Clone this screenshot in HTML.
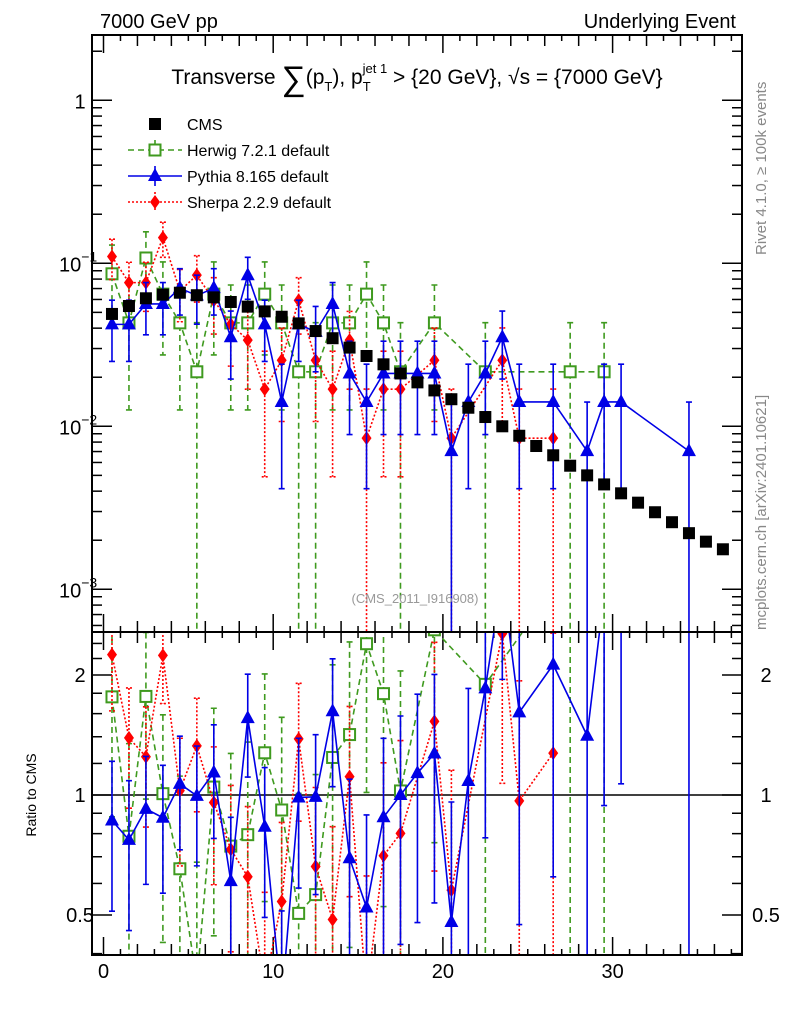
<!DOCTYPE html>
<html><head><meta charset="utf-8"><style>
html,body{margin:0;padding:0;background:#fff;overflow:hidden}
svg{display:block}
svg text{font-family:"Liberation Sans",sans-serif}
</style></head><body>
<svg id="c" width="786" height="1024" viewBox="0 0 786 1024" xmlns="http://www.w3.org/2000/svg">
<defs>
<clipPath id="cm"><rect x="92" y="35" width="650" height="597"/></clipPath>
<clipPath id="cr"><rect x="92" y="632" width="650" height="323"/></clipPath>
</defs>
<g id="axes"></g>
<g id="mainData" clip-path="url(#cm)"></g>
<g id="ratioData" clip-path="url(#cr)"></g>
<rect x="92" y="35" width="650" height="597" fill="none" stroke="#000" stroke-width="2"/>
<rect x="92" y="632" width="650" height="323" fill="none" stroke="#000" stroke-width="2"/>
<text x="100" y="28" font-size="20">7000 GeV pp</text>
<text x="736" y="28" font-size="20" text-anchor="end">Underlying Event</text>
<text x="417" y="84" font-size="21" text-anchor="middle">Transverse <tspan font-size="34" dy="6">∑</tspan><tspan dy="-6">(p</tspan><tspan font-size="13" dy="7">T</tspan><tspan dy="-7">), p</tspan><tspan font-size="13" dy="7">T</tspan><tspan font-size="13" dy="-18" dx="-8">jet 1</tspan><tspan dy="11"> &gt; {20 GeV}, √s = {7000 GeV}</tspan></text>
<text x="415" y="603" font-size="13" fill="#999" text-anchor="middle">(CMS_2011_I916908)</text>
<text transform="translate(766,255) rotate(-90)" font-size="15" fill="#888">Rivet 4.1.0, ≥ 100k events</text>
<text transform="translate(766,630) rotate(-90)" font-size="15" fill="#888">mcplots.cern.ch [arXiv:2401.10621]</text>
<text transform="translate(36,795) rotate(-90)" font-size="14" text-anchor="middle">Ratio to CMS</text>
<g id="legend"></g>
<script>
const xCenters=[0.5,1.5,2.5,3.5,4.5,5.5,6.5,7.5,8.5,9.5,10.5,11.5,12.5,13.5,14.5,15.5,16.5,17.5,18.5,19.5,20.5,21.5,22.5,23.5,24.5,25.5,26.5,27.5,28.5,29.5,30.5,31.5,32.5,33.5,34.5,35.5,36.5];
const cmsVals=[0.0489,0.0547,0.061,0.0642,0.066,0.0637,0.0618,0.0579,0.0542,0.0507,0.047,0.0428,0.0384,0.0347,0.0304,0.027,0.024,0.0211,0.0186,0.0166,0.01466,0.013,0.0114,0.0100,0.00875,0.00757,0.00664,0.00573,0.0050,0.0044,0.00388,0.0034,0.00297,0.00258,0.00221,0.00196,0.00176];
const herwigVals=[0.0862,0.0431,0.1078,0.0647,0.0431,0.0216,0.0647,0.0431,0.0431,0.0647,0.0431,0.0216,0.0216,0.0431,0.0431,0.0647,0.0431,0.0216,null,0.0431,null,null,0.0216,null,null,null,null,0.0216,null,0.0216];
const herwigErr=[0.0431,0.0305,0.0482,0.0373,0.0305,0.0216,0.0373,0.0305,0.0305,0.0373,0.0305,0.0216,0.0216,0.0305,0.0305,0.0373,0.0305,0.0216,null,0.0305,null,null,0.0216,null,null,null,null,0.0216,null,0.0216];
const pythiaVals=[0.0422,0.0422,0.0563,0.0563,0.0704,0.0634,0.0704,0.0352,0.0845,0.0422,0.0141,0.0422,0.038,0.0563,0.0211,0.0141,0.0211,0.0211,0.0211,0.0211,0.00704,0.0141,0.0211,0.0352,0.0141,null,0.0141,null,0.00704,0.0141,0.0141,null,null,null,0.00704];
const pythiaErr=[0.0172,0.0172,0.0199,0.0199,0.0223,0.0211,0.0223,0.0157,0.0244,0.0172,0.00996,0.0172,0.0164,0.0199,0.0122,0.00996,0.0122,0.0122,0.0122,0.0122,0.00704,0.00996,0.0122,0.0157,0.00996,null,0.00996,null,0.00704,0.00996,0.00996,null,null,null,0.00704];
const sherpaVals=[0.110,0.0761,0.0761,0.1438,0.0677,0.0846,0.0592,0.0423,0.0338,0.0169,0.0254,0.0592,0.0254,0.0169,0.0338,0.00846,0.0169,0.0169,null,0.0254,0.00846,null,null,0.0254,0.00846,null,0.00846];
const sherpaErr=[0.0305,0.0254,0.0254,0.0349,0.0239,0.0268,0.0224,0.0189,0.0169,0.0120,0.0147,0.0224,0.0147,0.0120,0.0169,0.00846,0.0120,0.0120,null,0.0147,0.00846,null,null,0.0147,0.00846,null,0.00846];
const xTickLabels=["0","10","20","30"];
const mainYLabels=["1","10","10","10"];

const NS="http://www.w3.org/2000/svg";
function X(v){return 103.5+16.97*v;}
function YM(v){return v>0?263.3-163*(Math.log10(v)+1):2000;}
function YR(r){return r>0?795-120*Math.log2(r):2000;}
function mk(tag,attrs,parent){const e=document.createElementNS(NS,tag);for(const k in attrs)e.setAttribute(k,attrs[k]);parent.appendChild(e);return e;}
const axes=document.getElementById('axes');
const mainG=document.getElementById('mainData');
const ratioG=document.getElementById('ratioData');
const svg=document.getElementById('c');

for(let v=0;v<=37;v++){
  const len=v%10===0?18:(v%2===0?11:6);
  for(const [yb,yt] of [[632,35],[955,632]]){
    let t=mk('line',{x1:X(v),x2:X(v),y1:yb,y2:yb-len,stroke:'#000','stroke-width':1.5},axes);
    
    
    t=mk('line',{x1:X(v),x2:X(v),y1:yt,y2:yt+len,stroke:'#000','stroke-width':1.5},axes);
    
    
  }
}
xTickLabels.forEach((s,i)=>{
  const t=mk('text',{x:X(i*10),y:978,'font-size':20,'text-anchor':'middle'},svg);
  t.textContent=s;
  
  
});
for(let d=-4;d<=0;d++){
  for(let m=1;m<=9;m++){
    const v=m*Math.pow(10,d);const y=YM(v);
    if(y<35||y>632)continue;
    const len=m===1?20:10;
    let t=mk('line',{x1:92,x2:92+len,y1:y,y2:y,stroke:'#000','stroke-width':1.5},axes);
    
    
    t=mk('line',{x1:742,x2:742-len,y1:y,y2:y,stroke:'#000','stroke-width':1.5},axes);
    
    
  }
}
mainYLabels.forEach((s,i)=>{
  const y=YM(Math.pow(10,-i));
  const t=mk('text',{x:i===0?80:59,y:y+8,'font-size':20,'text-anchor':i===0?'middle':'start'},svg);
  t.textContent=s;
  if(i>0){const sp=mk('tspan',{'font-size':14,dy:-10},t);sp.textContent='−'+i;}
  
  
});
const rTicks=[0.4,0.5,0.6,0.7,0.8,0.9,1,1.2,1.4,1.6,1.8,2,2.2,2.4];
rTicks.forEach(r=>{
  const y=YR(r);if(y<632||y>955)return;
  const len=(r===0.5||r===1||r===2)?20:10;
  let t=mk('line',{x1:92,x2:92+len,y1:y,y2:y,stroke:'#000','stroke-width':1.5},axes);
  
  
  t=mk('line',{x1:742,x2:742-len,y1:y,y2:y,stroke:'#000','stroke-width':1.5},axes);
  
  
});
[["2",2],["1",1],["0.5",0.5]].forEach(([s,r])=>{
  for(const x of [80,766]){
    const t=mk('text',{x:x,y:YR(r)+7,'font-size':20,'text-anchor':'middle'},svg);
    t.textContent=s;
    
    
  }
});
let ln=mk('line',{x1:92,x2:742,y1:YR(1),y2:YR(1),stroke:'#000','stroke-width':1.5},ratioG);



function marker(g,shape,x,y,color){
  let m;
  if(shape==='sq') m=mk('rect',{x:x-6,y:y-6,width:12,height:12,fill:'#000'},g);
  else if(shape==='osq') m=mk('rect',{x:x-5.5,y:y-5.5,width:11,height:11,fill:'#fff',stroke:color,'stroke-width':2},g);
  else if(shape==='tri') m=mk('polygon',{points:`${x},${y-8} ${x-7},${y+5} ${x+7},${y+5}`,fill:color},g);
  else m=mk('polygon',{points:`${x},${y-7} ${x-5},${y} ${x},${y+7} ${x+5},${y}`,fill:color},g);
  return m;
}
function clamp(v,lo,hi){return Math.max(lo,Math.min(hi,v));}
function series(g,name,vals,errs,YF,color,dash,shape,den,top,bot){
  const pts=[];
  vals.forEach((v,i)=>{
    if(v===null||v===undefined)return;
    let val=v,e=errs?errs[i]:0;
    if(den){val=v/den[i];e=e/den[i];}
    pts.push([X(xCenters[i]),clamp(YF(val),top-400,bot+60),clamp(YF(val+e),top-5,bot+5),clamp(YF(val-e),top-5,bot+5)]);
  });
  if(color){
    const p=mk('polyline',{points:pts.map(p=>p[0]+','+p[1]).join(' '),fill:'none',stroke:color,'stroke-width':1.6,'stroke-dasharray':dash},g);
    
    
    pts.forEach(p=>{
      const e=mk('path',{d:`M${p[0]},${p[2]}V${p[3]}M${p[0]-3},${p[2]}H${p[0]+3}M${p[0]-3},${p[3]}H${p[0]+3}`,stroke:color,'stroke-width':1.6,'stroke-dasharray':dash,fill:'none'},g);
      
      
    });
  }
  pts.forEach(p=>{
    const m=marker(g,shape,p[0],p[1],color);
    
    
  });
}
series(mainG,'herwig',herwigVals,herwigErr,YM,'#3f9a1f','6,4','osq',null,35,632);
series(mainG,'sherpa',sherpaVals,sherpaErr,YM,'#ff0000','2,2','dia',null,35,632);
series(mainG,'pythia',pythiaVals,pythiaErr,YM,'#0000e6','','tri',null,35,632);
series(mainG,'cms',cmsVals,null,YM,null,'','sq',null,35,632);
series(ratioG,'herwig-ratio',herwigVals,herwigErr,YR,'#3f9a1f','6,4','osq',cmsVals,632,955);
series(ratioG,'sherpa-ratio',sherpaVals,sherpaErr,YR,'#ff0000','2,2','dia',cmsVals,632,955);
series(ratioG,'pythia-ratio',pythiaVals,pythiaErr,YR,'#0000e6','','tri',cmsVals,632,955);

const lg=document.getElementById('legend');
const legendItems=[["CMS",null,'','sq'],["Herwig 7.2.1 default",'#3f9a1f','6,4','osq'],["Pythia 8.165 default",'#0000e6','','tri'],["Sherpa 2.2.9 default",'#ff0000','2,2','dia']];
legendItems.forEach((it,i)=>{
  const y=124+i*26;
  const g=mk('g',{},lg);
  
  
  if(it[1]){
    mk('line',{x1:128,x2:182,y1:y,y2:y,stroke:it[1],'stroke-width':1.6,'stroke-dasharray':it[2]},g);
    mk('line',{x1:155,x2:155,y1:y-10,y2:y+10,stroke:it[1],'stroke-width':1.6,'stroke-dasharray':it[2]},g);
  }
  marker(g,it[3],155,y,it[1]);
  const t=mk('text',{x:187,y:y+6,'font-size':16},g);
  t.textContent=it[0];
});
</script>
</svg>
</body></html>
